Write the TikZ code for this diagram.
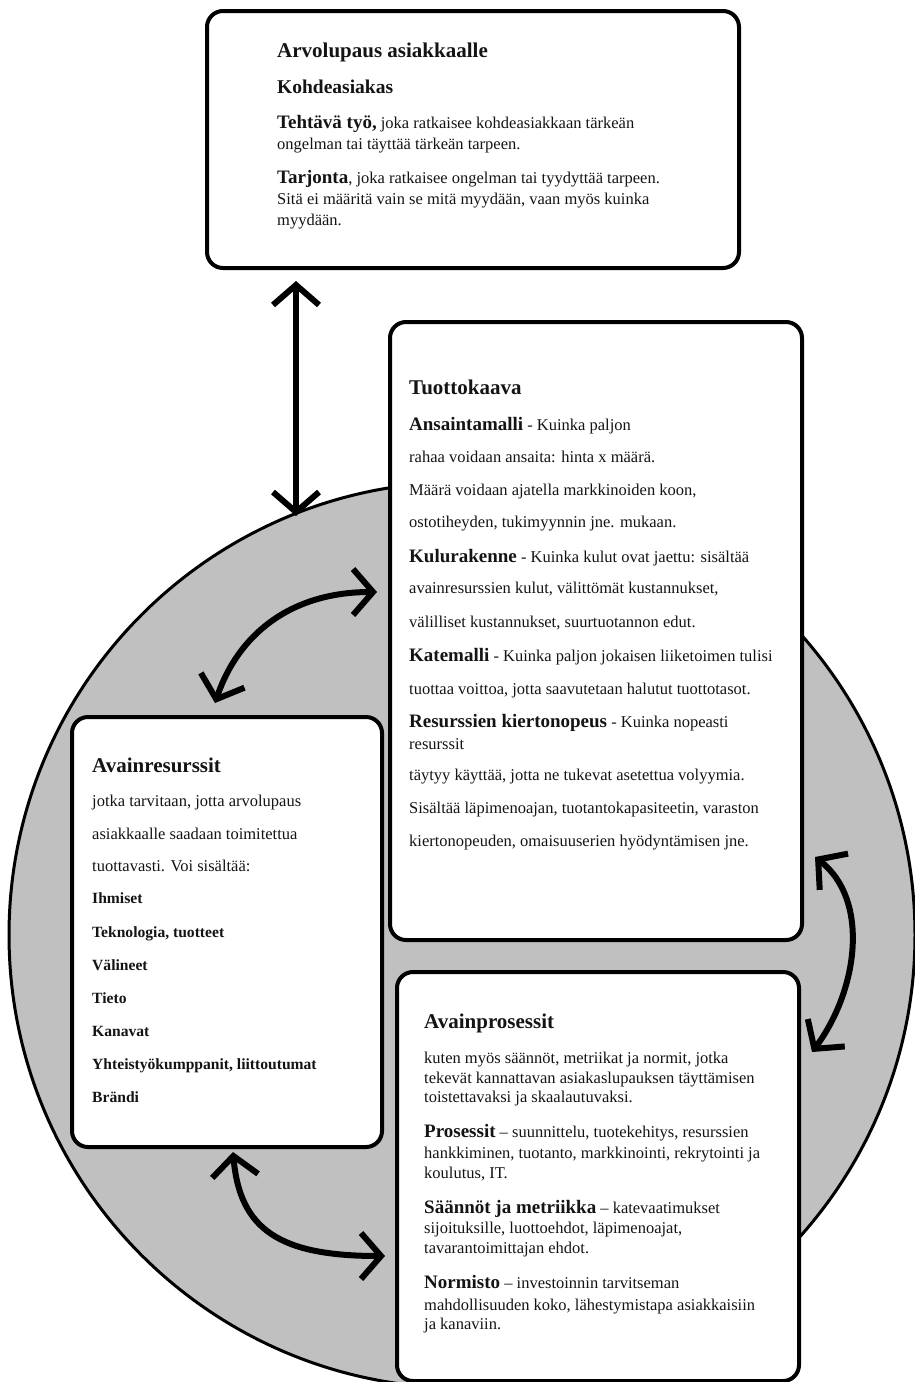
\documentclass[tikz,border=0pt]{standalone}
\usepackage{fontspec}
\setmainfont{Liberation Serif}
\usetikzlibrary{arrows.meta}
\definecolor{ringgray}{RGB}{192,192,192}
\definecolor{ink}{RGB}{20,20,20}
\newcommand{\bh}[1]{{\fontsize{19}{20}\selectfont\bfseries #1}}
\begin{document}
\begin{tikzpicture}[x=1pt,y=-1pt,
  box/.style={draw=black, line width=4pt, rounded corners=16pt, fill=white, anchor=north west, inner sep=0pt},
  arr/.style={line width=6pt, {Straight Barb[length=20pt,width=46pt]}-{Straight Barb[length=20pt,width=46pt]}},
  txt/.style={anchor=base west, inner sep=0pt, text=ink, font=\fontsize{16.5}{20}\selectfont},
  ttl/.style={anchor=base west, inner sep=0pt, text=ink, font=\fontsize{21}{24}\selectfont\bfseries},
  lst/.style={anchor=base west, inner sep=0pt, text=ink, font=\fontsize{15.6}{18}\selectfont\bfseries}]
\useasboundingbox (0,0) rectangle (915,1382);
\begin{scope}
\clip (0,0) rectangle (915,1382);
\fill[white] (0,0) rectangle (915,1382);
\node[circle, draw=black, line width=3pt, fill=ringgray, minimum size=906pt, inner sep=0pt] (ring) at (462,935) {};
% boxes
\node[box, minimum width=532pt, minimum height=257pt] (arvo) at (205,9) {};
\node[box, minimum width=412pt, minimum height=618pt] (tuotto) at (388,320) {};
\node[box, minimum width=310pt, minimum height=430pt] (resurssit) at (70,715) {};
\node[box, minimum width=402pt, minimum height=409pt] (prosessit) at (395,970) {};
\end{scope}
% arrow end points
\coordinate (v1) at (296,281);
\coordinate (v2) at (296,516);
\coordinate (a1s) at (215,703);
\coordinate (a1e) at (377,592);
\coordinate (a2s) at (815,857);
\coordinate (a2e) at (812,1052);
\coordinate (a3s) at (233,1152);
\coordinate (a3e) at (385,1256);
\draw[arr] (v1) -- (v2);
\draw[arr] (a1s) .. controls (238,635) and (290,592) .. (a1e);
\draw[arr] (a2s) .. controls (870,900) and (858,990) .. (a2e);
\draw[arr] (a3s) .. controls (240,1230) and (280,1256) .. (a3e);
% top box text
\node[ttl] (t1) at (277,57) {Arvolupaus asiakkaalle};
\node[ttl, font=\fontsize{19.5}{22}\selectfont\bfseries] (t2) at (277,93) {Kohdeasiakas};
\node[txt] (t3) at (277,128) {\bh{Tehtävä työ,} joka ratkaisee kohdeasiakkaan tärkeän};
\node[txt] (t4) at (277,149) {ongelman tai täyttää tärkeän tarpeen.};
\node[txt] (t5) at (277,183) {\bh{Tarjonta}, joka ratkaisee ongelman tai tyydyttää tarpeen.};
\node[txt] (t6) at (277,204) {Sitä ei määritä vain se mitä myydään, vaan myös kuinka};
\node[txt] (t7) at (277,225) {myydään.};
% Tuottokaava
\node[ttl] (p1) at (409,394) {Tuottokaava};
\node[txt] (p2) at (409,430) {\bh{Ansaintamalli} - Kuinka paljon};
\node[txt] (p3) at (409,462) {rahaa voidaan ansaita: hinta x määrä.};
\node[txt] (p4) at (409,495) {Määrä voidaan ajatella markkinoiden koon,};
\node[txt] (p5) at (409,527) {ostotiheyden, tukimyynnin jne. mukaan.};
\node[txt] (p6) at (409,562) {\bh{Kulurakenne} - Kuinka kulut ovat jaettu: sisältää};
\node[txt] (p7) at (409,593) {avainresurssien kulut, välittömät kustannukset,};
\node[txt] (p8) at (409,627) {välilliset kustannukset, suurtuotannon edut.};
\node[txt] (p9) at (409,661) {\bh{Katemalli} - Kuinka paljon jokaisen liiketoimen tulisi};
\node[txt] (p10) at (409,694) {tuottaa voittoa, jotta saavutetaan halutut tuottotasot.};
\node[txt] (p11) at (409,727) {\bh{Resurssien kiertonopeus} - Kuinka nopeasti};
\node[txt] (p12) at (409,749) {resurssit};
\node[txt] (p13) at (409,780) {täytyy käyttää, jotta ne tukevat asetettua volyymia.};
\node[txt] (p14) at (409,813) {Sisältää läpimenoajan, tuotantokapasiteetin, varaston};
\node[txt] (p15) at (409,846) {kiertonopeuden, omaisuuserien hyödyntämisen jne.};
% Avainresurssit
\node[ttl] (r1) at (92,772) {Avainresurssit};
\node[txt] (r2) at (92,806) {jotka tarvitaan, jotta arvolupaus};
\node[txt] (r3) at (92,839) {asiakkaalle saadaan toimitettua};
\node[txt] (r4) at (92,871) {tuottavasti. Voi sisältää:};
\node[lst] (r5) at (92,903) {Ihmiset};
\node[lst] (r6) at (92,937) {Teknologia, tuotteet};
\node[lst] (r7) at (92,970) {Välineet};
\node[lst] (r8) at (92,1003) {Tieto};
\node[lst] (r9) at (92,1036) {Kanavat};
\node[lst] (r10) at (92,1069) {Yhteistyökumppanit, liittoutumat};
\node[lst] (r11) at (92,1102) {Brändi};
% Avainprosessit
\node[ttl] (k1) at (424,1028) {Avainprosessit};
\node[txt] (k2) at (424,1063) {kuten myös säännöt, metriikat ja normit, jotka};
\node[txt] (k3) at (424,1083) {tekevät kannattavan asiakaslupauksen täyttämisen};
\node[txt] (k4) at (424,1102) {toistettavaksi ja skaalautuvaksi.};
\node[txt] (k5) at (424,1137) {\bh{Prosessit} – suunnittelu, tuotekehitys, resurssien};
\node[txt] (k6) at (424,1158) {hankkiminen, tuotanto, markkinointi, rekrytointi ja};
\node[txt] (k7) at (424,1178) {koulutus, IT.};
\node[txt] (k8) at (424,1213) {\bh{Säännöt ja metriikka} – katevaatimukset};
\node[txt] (k9) at (424,1233) {sijoituksille, luottoehdot, läpimenoajat,};
\node[txt] (k10) at (424,1253) {tavarantoimittajan ehdot.};
\node[txt] (k11) at (424,1288) {\bh{Normisto} – investoinnin tarvitseman};
\node[txt] (k12) at (424,1310) {mahdollisuuden koko, lähestymistapa asiakkaisiin};
\node[txt] (k13) at (424,1329) {ja kanaviin.};
\end{tikzpicture}
\end{document}
